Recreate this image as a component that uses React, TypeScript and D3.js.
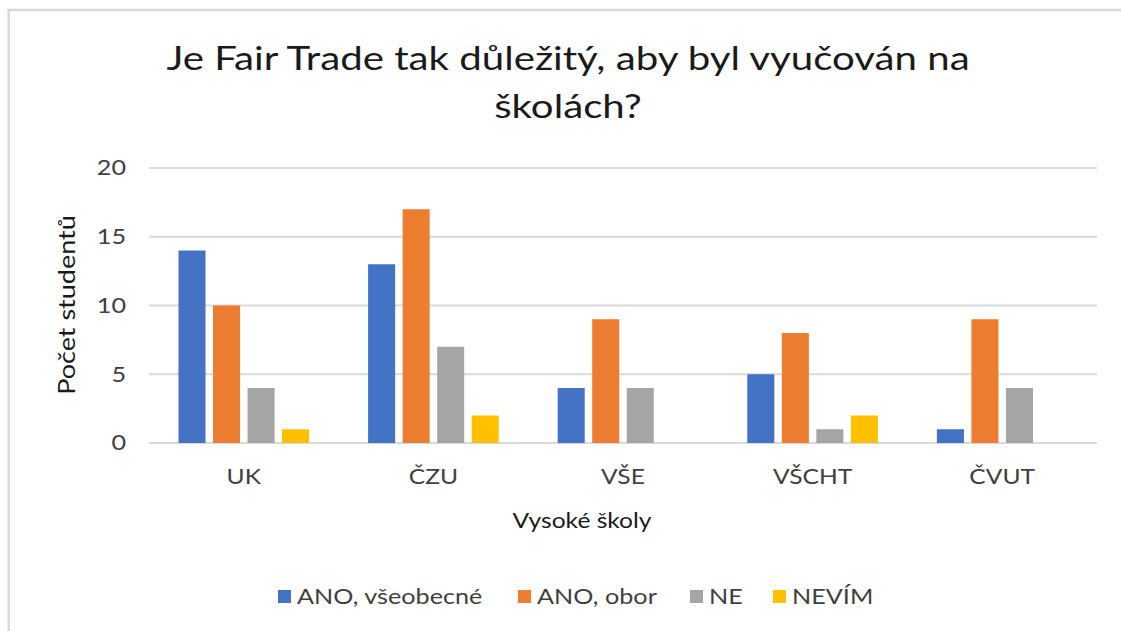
import React from "react";
import * as d3 from "d3";

const categories = ["UK", "ČZU", "VŠE", "VŠCHT", "ČVUT"];
const seriesNames = ["ANO, všeobecné", "ANO, obor", "NE", "NEVÍM"];
const anoVseobecne = [14, 13, 4, 5, 1];
const anoObor = [10, 17, 9, 8, 9];
const ne = [4, 7, 4, 1, 4];
const nevim = [1, 2, 0, 2, 0];
const yTicks = [0, 5, 10, 15, 20];
const colors = ["#4472C4", "#ED7D31", "#A5A5A5", "#FFC000"];
const titleLines = ["Je Fair Trade tak důležitý, aby byl vyučován na", "školách?"];
const yTitle = "Počet studentů";
const xTitle = "Vysoké školy";

const seriesValues = [anoVseobecne, anoObor, ne, nevim];
const FONT = "Lato, 'Open Sans', sans-serif";
const SX = 1.2;

function T({
  x,
  y,
  rotate = 0,
  anchor = "middle",
  size,
  fill,
  dy = "0.35em",
  children,
}: {
  x: number;
  y: number;
  rotate?: number;
  anchor?: string;
  size: number;
  fill: string;
  dy?: string;
  children: React.ReactNode;
}) {
  return (
    <text
      transform={`translate(${x},${y}) rotate(${rotate}) scale(${SX},1)`}
      textAnchor={anchor}
      dy={dy}
      fontSize={size}
      fill={fill}
    >
      {children}
    </text>
  );
}

export default function App() {
  const W = 1121;
  const H = 631;
  const x = d3
    .scaleBand<string>()
    .domain(categories)
    .range([149, 1097])
    .paddingInner(0.311)
    .paddingOuter(0.1555);
  const xs = d3
    .scaleBand<string>()
    .domain(seriesNames)
    .range([0, x.bandwidth()])
    .paddingInner(0.217)
    .paddingOuter(0);
  const y = d3.scaleLinear().domain([0, 20]).range([443, 168]);

  const legendItems = [
    { sq: 278, tx: 297 },
    { sq: 518, tx: 537 },
    { sq: 690, tx: 709 },
    { sq: 773, tx: 792 },
  ];

  return (
    <svg
      width={W}
      height={H}
      viewBox={`0 0 ${W} ${H}`}
      style={{ position: "absolute", left: 0, top: 0, display: "block" }}
    >
      <g fontFamily={FONT}>
        <rect x={0} y={0} width={W} height={H} fill="#fff" />
        <line x1={7.5} x2={W} y1={10} y2={10} stroke="#d9d9d9" strokeWidth={2.5} />
        <line x1={8.75} x2={8.75} y1={8.75} y2={H} stroke="#d9d9d9" strokeWidth={2.5} />
        {titleLines.map((t, i) => (
          <T key={i} x={568} y={70 + i * 48} dy="0" size={33.5} fill="#1a1a1a">
            {t}
          </T>
        ))}
        {yTicks.map((t) => (
          <g key={t}>
            <line
              x1={149}
              x2={1097}
              y1={y(t)}
              y2={y(t)}
              stroke="#d9d9d9"
              strokeWidth={2}
            />
            <T x={126} y={y(t)} anchor="end" size={21} fill="#404040">
              {t}
            </T>
          </g>
        ))}
        {categories.map((c, ci) => (
          <g key={c}>
            {seriesNames.map((s, si) => {
              const v = seriesValues[si][ci];
              if (!v) return null;
              return (
                <rect
                  key={s}
                  x={(x(c) as number) + (xs(s) as number)}
                  y={y(v)}
                  width={xs.bandwidth()}
                  height={y(0) - y(v)}
                  fill={colors[si]}
                />
              );
            })}
            <T
              x={(x(c) as number) + x.bandwidth() / 2}
              y={477}
              size={20.5}
              fill="#404040"
            >
              {c}
            </T>
          </g>
        ))}
        <T x={67} y={305} rotate={-90} size={22.5} fill="#1a1a1a">
          {yTitle}
        </T>
        <T x={582} y={521} size={20.5} fill="#1a1a1a">
          {xTitle}
        </T>
        {seriesNames.map((s, i) => (
          <g key={s}>
            <rect
              x={legendItems[i].sq}
              y={590}
              width={13}
              height={13}
              fill={colors[i]}
            />
            <T
              x={legendItems[i].tx}
              y={597}
              anchor="start"
              size={21}
              fill="#404040"
            >
              {s}
            </T>
          </g>
        ))}
      </g>
    </svg>
  );
}
